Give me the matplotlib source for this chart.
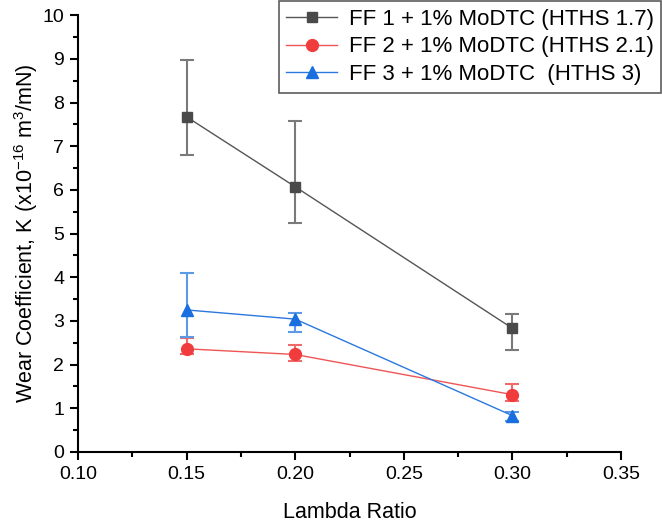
import matplotlib
matplotlib.use("Agg")
import matplotlib.pyplot as plt
from matplotlib.ticker import MultipleLocator, AutoMinorLocator
import numpy as np

plt.rcParams['font.family'] = ['Liberation Sans', 'DejaVu Sans']
plt.rcParams['mathtext.fontset'] = 'custom'
plt.rcParams['mathtext.rm'] = 'Liberation Sans'
plt.rcParams['mathtext.it'] = 'Liberation Sans:italic'

lambda_ratio = [0.15, 0.20, 0.30]

labels = ["FF 1 + 1% MoDTC (HTHS 1.7)",
          "FF 2 + 1% MoDTC (HTHS 2.1)",
          "FF 3 + 1% MoDTC  (HTHS 3)"]

ff1 = [7.67, 6.07, 2.83]
ff1_lo = [6.80, 5.25, 2.33]
ff1_hi = [8.98, 7.57, 3.15]

ff2 = [2.36, 2.23, 1.31]
ff2_lo = [2.24, 2.09, 1.16]
ff2_hi = [2.61, 2.45, 1.56]

ff3 = [3.25, 3.04, 0.83]
ff3_lo = [2.63, 2.75, 0.71]
ff3_hi = [4.10, 3.18, 0.92]

fig = plt.figure(figsize=(6.62, 5.23), dpi=100)
ax = fig.add_axes([0.118, 0.136, 0.820, 0.835])

series = [
    (ff1, ff1_lo, ff1_hi, '#4a4a4a', '#555555', '#7a7a7a', 's', 7.5),
    (ff2, ff2_lo, ff2_hi, '#f03c3c', '#f05555', '#f06a6a', 'o', 8.5),
    (ff3, ff3_lo, ff3_hi, '#1a6fdf', '#2a78e0', '#5c9ae8', '^', 9),
]
for (vals, lo, hi, mcol, lcol, ecol, mk, ms), lab in zip(series, labels):
    v = np.array(vals)
    yerr = [v - np.array(lo), np.array(hi) - v]
    ax.errorbar(lambda_ratio, v, yerr=yerr, fmt='none', ecolor=ecol,
                elinewidth=1.5, capsize=5, capthick=1.5, zorder=2)
    ax.plot(lambda_ratio, v, color=lcol, lw=1.0, marker=mk, markersize=ms,
            markerfacecolor=mcol, markeredgecolor=mcol, label=lab, zorder=3)

ax.set_xlim(0.10, 0.35)
ax.set_ylim(0, 10)
ax.xaxis.set_major_locator(MultipleLocator(0.05))
ax.xaxis.set_minor_locator(AutoMinorLocator(2))
ax.yaxis.set_major_locator(MultipleLocator(1))
ax.yaxis.set_minor_locator(AutoMinorLocator(2))
ax.xaxis.set_major_formatter(matplotlib.ticker.FormatStrFormatter('%.2f'))

for s in ['top', 'right']:
    ax.spines[s].set_visible(False)
for s in ['left', 'bottom']:
    ax.spines[s].set_linewidth(1.5)
ax.tick_params(which='major', direction='out', length=6, width=1.5, labelsize=14, pad=4)
ax.tick_params(which='minor', direction='out', length=3.5, width=1.5)

ax.set_xlabel("Lambda Ratio", fontsize=15.5, labelpad=14)
ax.set_ylabel("Wear Coefficient, K (x10$^{-16}$ m$^3$/mN)", fontsize=15.5, labelpad=2)

leg = fig.legend(loc='upper right', bbox_to_anchor=(0.999, 0.998), fontsize=16,
                 frameon=True, fancybox=False, edgecolor='#333333',
                 handlelength=2.3, handletextpad=0.5, borderpad=0.35,
                 labelspacing=0.3, borderaxespad=0.0)
leg.get_frame().set_linewidth(1.2)

fig.savefig("out.png", dpi=100)
